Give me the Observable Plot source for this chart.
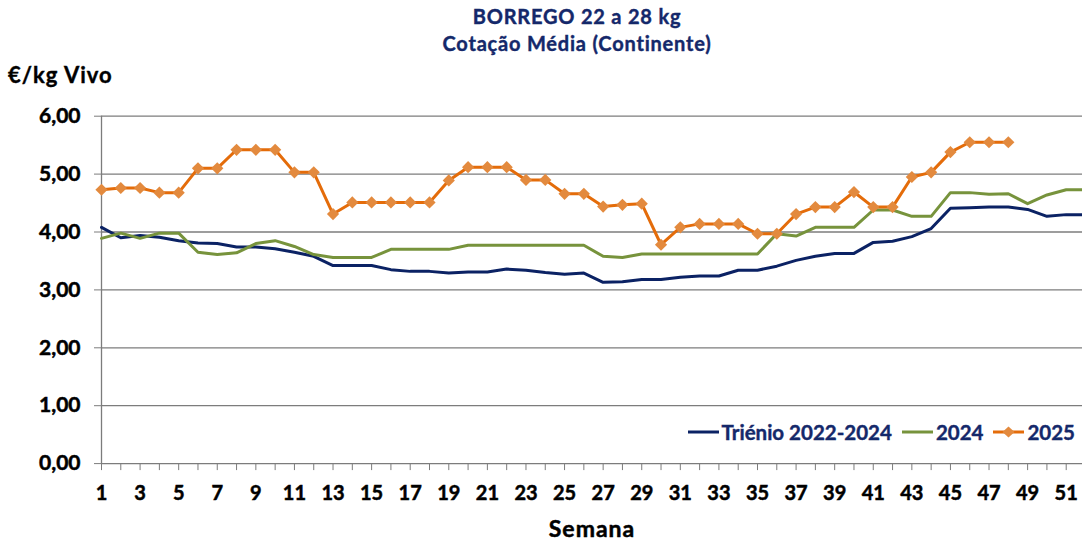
<!DOCTYPE html>
<html><head><meta charset="utf-8">
<script src="https://cdn.jsdelivr.net/npm/d3@7"></script>
<script src="https://cdn.jsdelivr.net/npm/@observablehq/plot@0.6"></script>
<style>
html,body{margin:0;padding:0;background:#fff;overflow:hidden;}
#wrap{position:relative;width:1082px;height:544px;font-family:Lato,"Open Sans",sans-serif;font-weight:700;}
#header{position:relative;height:96px;}
#title{position:absolute;left:577px;top:3px;transform:translateX(-50%);text-align:center;color:#14286A;font-size:20px;letter-spacing:0.8px;line-height:27px;white-space:nowrap;-webkit-text-stroke:0.4px #14286A;}
#ylab{position:absolute;left:8px;top:61px;font-size:22px;letter-spacing:1px;color:#000;white-space:nowrap;-webkit-text-stroke:0.4px #000;}
#legend{position:absolute;right:7px;top:420px;display:flex;align-items:center;font-size:20.5px;color:#14286A;white-space:nowrap;-webkit-text-stroke:0.4px #14286A;}
#legend .item{display:flex;align-items:center;margin-left:10px;}
#legend svg{margin-right:3px;}
#chart svg text{paint-order:stroke;stroke:#000;stroke-width:0.5px;}
</style>
</head><body>
<div id="wrap">
  <div id="header"><div id="title"></div><div id="ylab"></div></div>
  <div id="chart"></div>
  <div id="legend"></div>
</div>
<script>
const titleLines = ["BORREGO 22 a 28 kg", "Cotação Média (Continente)"];
const yLabel = "€/kg Vivo";
const xLabel = "Semana";
const seriesNames = ["Triénio 2022-2024", "2024", "2025"];
const seriesColors = ["#0B2264", "#77933C", "#E46C0A"];
const markerColor = "#E38A3E";
const weeks = [1,2,3,4,5,6,7,8,9,10,11,12,13,14,15,16,17,18,19,20,21,22,23,24,25,26,27,28,29,30,31,32,33,34,35,36,37,38,39,40,41,42,43,44,45,46,47,48,49,50,51,52];
const xTickLabels = [1,3,5,7,9,11,13,15,17,19,21,23,25,27,29,31,33,35,37,39,41,43,45,47,49,51];
const yTicks = [0,1,2,3,4,5,6];
const trienio = [4.08,3.90,3.94,3.91,3.85,3.81,3.80,3.74,3.74,3.71,
                 3.65,3.58,3.42,3.42,3.42,3.35,3.32,3.32,3.29,3.31,
                 3.31,3.36,3.34,3.30,3.27,3.29,3.13,3.14,3.18,3.18,
                 3.22,3.24,3.24,3.34,3.34,3.41,3.51,3.58,3.63,3.63,
                 3.82,3.84,3.92,4.06,4.41,4.42,4.43,4.43,4.39,4.27,
                 4.30,4.30];
const y2024 = [3.89,3.98,3.89,3.98,3.98,3.65,3.61,3.64,3.80,3.85,
               3.75,3.61,3.56,3.56,3.56,3.70,3.70,3.70,3.70,3.77,
               3.77,3.77,3.77,3.77,3.77,3.77,3.58,3.56,3.62,3.62,
               3.62,3.62,3.62,3.62,3.62,3.97,3.93,4.08,4.08,4.08,
               4.38,4.38,4.27,4.27,4.68,4.68,4.65,4.66,4.49,4.64,
               4.73,4.73];
const y2025 = [4.73,4.76,4.76,4.68,4.68,5.10,5.10,5.42,5.42,5.42,
               5.03,5.03,4.31,4.51,4.51,4.51,4.51,4.51,4.89,5.12,
               5.12,5.12,4.90,4.90,4.66,4.66,4.44,4.47,4.49,3.78,
               4.08,4.14,4.14,4.14,3.97,3.97,4.31,4.43,4.43,4.69,
               4.43,4.43,4.95,5.03,5.38,5.55,5.55,5.55];

document.getElementById("title").innerHTML = titleLines.map(t => `<div>${t}</div>`).join("");
document.getElementById("ylab").textContent = yLabel;

const seriesValues = [trienio, y2024, y2025];
const rows = [];
seriesValues.forEach((vals, s) => {
  vals.forEach((v, i) => { if (v != null) rows.push({week: weeks[i], value: v, series: seriesNames[s]}); });
});
const rows2025 = rows.filter(d => d.series === seriesNames[2]);

const svgH = 448, plotTop = 19.7, plotBottom = 367.1;
const gridColor = "#7c7c7c";
const fmt = d => d.toFixed(2).replace(".", ",");

const chart = Plot.plot({
  width: 1082, height: svgH,
  marginLeft: 101, marginRight: 0, marginTop: plotTop, marginBottom: svgH - plotBottom,
  x: {domain: [1, 52], range: [101, 1085]},
  y: {domain: [0, 6], range: [plotBottom, plotTop]},
  color: {domain: seriesNames, range: seriesColors},
  style: {fontFamily: "Lato, 'Open Sans', sans-serif", fontWeight: 700, fontSize: "20px", color: "#000", overflow: "visible"},
  marks: [
    Plot.gridY(yTicks, {stroke: gridColor, strokeOpacity: 1, strokeWidth: 1.3}),
    Plot.ruleX([1], {y1: 0, y2: 6, stroke: gridColor, strokeWidth: 1.3}),
    Plot.axisY(yTicks, {tickSize: 7, tickPadding: 14, tickFormat: fmt, stroke: gridColor, fill: "#000", label: null, fontSize: 21}),
    Plot.axisX(weeks, {tickSize: 7, tickFormat: () => "", stroke: gridColor, label: null}),
    Plot.axisX(xTickLabels, {tickSize: 0, tickPadding: 22, fill: "#000", label: null, fontSize: 20}),
    Plot.line(rows, {x: "week", y: "value", z: "series", stroke: "series", strokeWidth: 3, curve: "linear"}),
    Plot.dot(rows2025, {x: "week", y: "value", symbol: "diamond2", r: 5.5, fill: markerColor, stroke: "none"}),
    Plot.text([xLabel], {frameAnchor: "bottom", dy: 66, lineAnchor: "middle", fontSize: 23, fontWeight: 700, fill: "#000"})
  ]
});
chart.querySelectorAll("text").forEach(t => { if (t.textContent === xLabel) t.setAttribute("letter-spacing", "1px"); });
document.getElementById("chart").appendChild(chart);

const legend = document.getElementById("legend");
seriesNames.forEach((name, i) => {
  const item = document.createElement("div");
  item.className = "item";
  const marker = i === 2 ? `<path d="M15.5,0.5 L21.5,6 L15.5,11.5 L9.5,6 Z" fill="${markerColor}"/>` : "";
  item.innerHTML = `<svg width="31" height="12"><line x1="0" x2="31" y1="6" y2="6" stroke="${seriesColors[i]}" stroke-width="3"/>${marker}</svg><span>${name}</span>`;
  legend.appendChild(item);
});
</script>
</body></html>
